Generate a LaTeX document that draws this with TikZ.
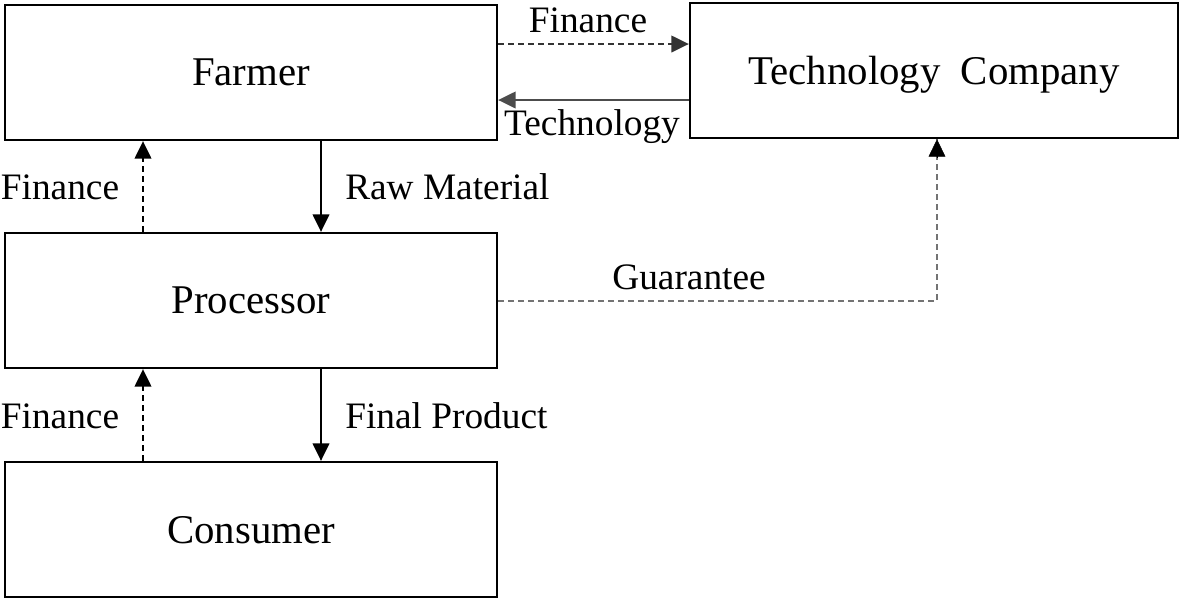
\documentclass[tikz,border=0pt]{standalone}
\usepackage{fontspec}
\setmainfont{Liberation Serif}
\usetikzlibrary{arrows.meta}
\begin{document}
\begin{tikzpicture}[x=0.75pt,y=-0.75pt,
  box/.style={draw,line width=1.8pt,minimum width=369pt,minimum height=101.25pt,inner sep=0pt,text depth=0pt,font=\fontsize{30.6}{36}\selectfont},
  lbl/.style={inner sep=0pt,font=\fontsize{28}{33}\selectfont},
  tip/.style={-{Triangle[length=13pt,width=12.5pt]}},
  conn/.style={line width=1pt,tip},
  dsh/.style={conn,dash pattern=on 4.5pt off 3pt},
  gdsh/.style={line width=1pt,dash pattern=on 4.5pt off 3pt,draw=black!55}]
\useasboundingbox (0,0) rectangle (1183,601);
\node[box] (farmer) at (251,72.5) {Farmer};
\node[box,minimum width=366pt] (tech) at (934,70.5) {Technology\ \ Company};
\node[box] (proc) at (251,300.5) {Processor};
\node[box] (cons) at (251,529.5) {Consumer};
% Farmer <-> Tech
\draw[dsh,draw=black!80] (farmer.east |- 0,44) -- (tech.west |- 0,44);
\node[lbl] (lfin1) at (588,20) {Finance};
\draw[conn,draw=black!70] (tech.west |- 0,100) -- (farmer.east |- 0,100);
\node[lbl] (ltech) at (592,127) {Technology};
% Farmer <-> Processor
\draw[conn] (farmer.south -| 321,0) -- (proc.north -| 321,0);
\node[lbl,anchor=west] (lraw) at (345,187) {Raw Material};
\draw[dsh] (proc.north -| 143,0) -- (farmer.south -| 143,0);
\node[lbl] (lfin2) at (60,187) {Finance};
% Guarantee
\coordinate (gc) at (937,301);
\draw[gdsh] (proc.east |- gc) -- (gc) -- (tech.south -| gc);
\draw[tip,black] ([yshift=-14pt]tech.south -| gc) -- (tech.south -| gc);
\node[lbl] (lguar) at (689,277) {Guarantee};
% Processor <-> Consumer
\draw[conn] (proc.south -| 321,0) -- (cons.north -| 321,0);
\node[lbl,anchor=west] (lfinal) at (345,416) {Final Product};
\draw[dsh] (cons.north -| 143,0) -- (proc.south -| 143,0);
\node[lbl] (lfin3) at (60,416) {Finance};
\end{tikzpicture}
\end{document}
